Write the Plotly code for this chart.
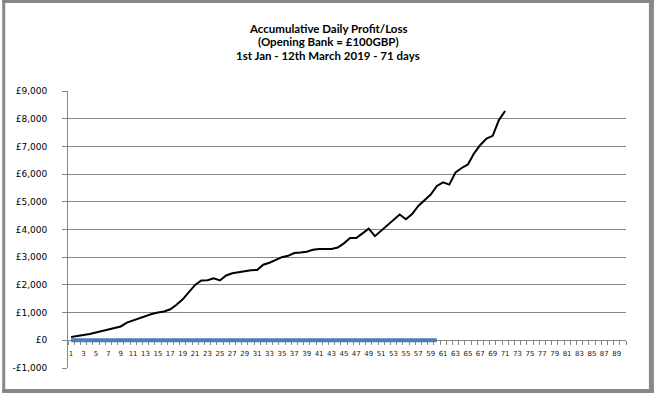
import plotly.graph_objects as go

# ---- data ----
days = list(range(1, 72))
cumulative_pl = [
    120, 150, 190, 230, 280, 330, 380, 440, 500, 640,
    720, 800, 870, 950, 1000, 1040, 1120, 1280, 1480, 1760,
    2000, 2160, 2170, 2240, 2160, 2340, 2420, 2460, 2500, 2530,
    2540, 2730, 2800, 2900, 3000, 3050, 3150, 3170, 3200, 3270,
    3300, 3300, 3300, 3350, 3500, 3690, 3690, 3860, 4030, 3760,
    3960, 4150, 4350, 4540, 4370, 4560, 4850, 5060, 5260, 5570,
    5700, 5620, 6060, 6220, 6350, 6750, 7050, 7280, 7380, 7950,
    8280,
]
base_days = list(range(1, 61))
base_values = [
    0, 0, 0, 0, 0, 0, 0, 0, 0, 0,
    0, 0, 0, 0, 0, 0, 0, 0, 0, 0,
    0, 0, 0, 0, 0, 0, 0, 0, 0, 0,
    0, 0, 0, 0, 0, 0, 0, 0, 0, 0,
    0, 0, 0, 0, 0, 0, 0, 0, 0, 0,
    0, 0, 0, 0, 0, 0, 0, 0, 0, 0,
]
x_tick_vals = list(range(1, 90, 2))
x_tick_text = [str(v) for v in x_tick_vals]
y_tick_vals = [-1000, 0, 1000, 2000, 3000, 4000, 5000, 6000, 7000, 8000, 9000]
y_tick_text = ["-£1,000", "£0", "£1,000", "£2,000", "£3,000", "£4,000",
               "£5,000", "£6,000", "£7,000", "£8,000", "£9,000"]
title_lines = [
    "Accumulative Daily Profit/Loss",
    "(Opening Bank = £100GBP)",
    "1st Jan - 12th March 2019 - 71 days",
]

GRAY = "#868686"
FRAME = "#888888"

fig = go.Figure()
fig.add_trace(go.Scatter(
    x=base_days, y=base_values, mode="lines",
    line=dict(color="#4a7ebb", width=4), showlegend=False, hoverinfo="skip",
))
fig.add_trace(go.Scatter(
    x=days, y=cumulative_pl, mode="lines",
    line=dict(color="#000000", width=2), showlegend=False, hoverinfo="skip",
))

W, H = 654, 393
L, R, T, B = 66, 28, 91, 25
pw, ph = W - L - R, H - T - B

def px_x(px):
    return (px - L) / pw

def px_y(py):
    return (H - B - py) / ph

annotations = []
for i, line in enumerate(title_lines):
    annotations.append(dict(
        text="<b>" + line + "</b>", xref="paper", yref="paper",
        x=px_x(327), y=px_y(28 + 14 * i), xanchor="center", yanchor="middle",
        showarrow=False, font=dict(family="Lato", size=11.5, color="#000000"),
    ))

def frame_rect(x0, y0, x1, y1):
    return dict(type="rect", xref="paper", yref="paper",
                x0=px_x(x0), x1=px_x(x1), y0=px_y(y1), y1=px_y(y0),
                line=dict(width=0), fillcolor=FRAME, layer="above")

shapes = [
    frame_rect(0, 0, W, 3),        # top
    frame_rect(0, 0, 3, H),        # left
    frame_rect(W - 5, 0, W, H),    # right
    frame_rect(0, H - 4, W, H),    # bottom
]

fig.update_layout(
    width=W, height=H,
    margin=dict(l=L, r=R, t=T, b=B),
    paper_bgcolor="white", plot_bgcolor="white",
    annotations=annotations,
    shapes=shapes,
    hovermode=False,
    xaxis=dict(
        range=[0.5, 90.5], tickvals=x_tick_vals, ticktext=x_tick_text,
        showgrid=False, zeroline=False,
        showline=True, linecolor=GRAY, linewidth=1,
        anchor="free", position=0.1,
        ticks="outside", ticklen=0, tickcolor=GRAY,
        ticklabelstandoff=6,
        minor=dict(ticks="outside", ticklen=4, tick0=0.5, dtick=1,
                   tickcolor=GRAY, showgrid=False),
        tickfont=dict(family="DejaVu Sans", size=7, color="#222222"),
        layer="below traces", fixedrange=True,
    ),
    yaxis=dict(
        range=[-1000, 9000], tickvals=y_tick_vals, ticktext=y_tick_text,
        showgrid=True, gridcolor=GRAY, gridwidth=1, zeroline=False,
        showline=True, linecolor=GRAY, linewidth=1,
        ticks="outside", ticklen=5, tickcolor=GRAY,
        ticklabelstandoff=13,
        tickfont=dict(family="DejaVu Sans", size=9, color="#000000"),
        layer="below traces", fixedrange=True,
    ),
)

fig.write_html(
    "out.html",
    config={"displayModeBar": False, "staticPlot": True},
    post_script="document.body.style.margin='0px';document.body.style.overflow='hidden';",
)
